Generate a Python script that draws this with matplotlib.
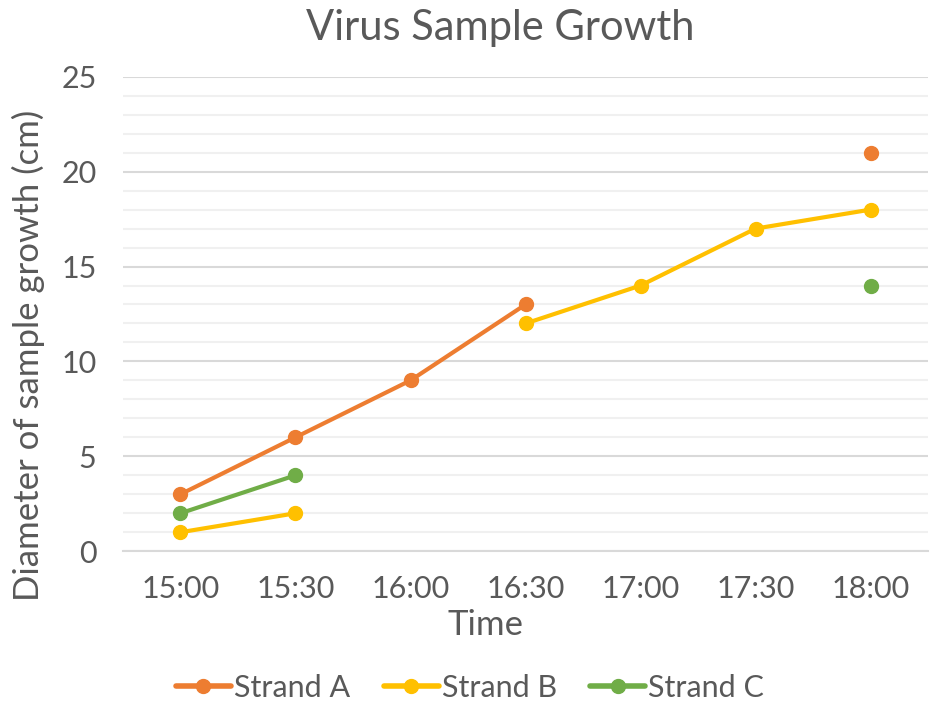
import numpy as np
import matplotlib.pyplot as plt

plt.rcParams['font.family'] = ['Lato', 'DejaVu Sans']

times = ['15:00', '15:30', '16:00', '16:30', '17:00', '17:30', '18:00']
strand_a = [3, 6, 9, 13, np.nan, np.nan, 21]
strand_b = [1, 2, np.nan, 12, 14, 17, 18]
strand_c = [2, 4, np.nan, np.nan, np.nan, np.nan, 14]

series = [('Strand A', strand_a, '#ED7D31'),
          ('Strand B', strand_b, '#FFC000'),
          ('Strand C', strand_c, '#70AD47')]

txt = '#595959'

fig = plt.figure(figsize=(9.31, 7.04), dpi=100)
ax = fig.add_axes([0.132, 0.217, 0.865, 0.674])

x = np.arange(len(times))
for name, vals, col in series:
    ax.plot(x, vals, color=col, lw=3.0, marker='o', ms=10, label=name,
            solid_capstyle='round', zorder=3)

ax.set_xlim(-0.5, len(times) - 0.5)
ax.set_ylim(0, 25)
ax.set_yticks(range(0, 26, 5))
ax.set_yticks(range(0, 26, 1), minor=True)
ax.grid(axis='y', which='major', color='#D9D9D9', lw=1.5)
ax.grid(axis='y', which='minor', color='#F0F0F0', lw=1.5)
ax.set_axisbelow(True)
ax.set_xticks(x)
ax.set_xticklabels(times)
ax.tick_params(axis='both', which='both', length=0, labelsize=22, colors=txt)
ax.tick_params(axis='x', pad=17)
ax.tick_params(axis='y', pad=19)
for s in ['top', 'right', 'left']:
    ax.spines[s].set_visible(False)
ax.spines['bottom'].set_color('#D9D9D9')
ax.spines['bottom'].set_linewidth(1.5)

fig.text(500 / 931, 1 - 28 / 704, 'Virus Sample Growth', ha='center', va='center',
         fontsize=30, color=txt)
fig.text(486 / 931, 1 - 625 / 704, 'Time', ha='center', va='center',
         fontsize=25, color=txt)
fig.text(28 / 931, 1 - 355 / 704, 'Diameter of sample growth (cm)', ha='center',
         va='center', rotation=90, fontsize=25, color=txt)

leg = fig.legend(loc='center', bbox_to_anchor=(470 / 931, 1 - 688 / 704), ncol=3,
                 frameon=False, fontsize=22, labelcolor=txt, handlelength=1.8,
                 handletextpad=0.1, columnspacing=1.1)
for h in leg.legend_handles:
    h.set_linewidth(4)

fig.savefig('out.png', dpi=100)
